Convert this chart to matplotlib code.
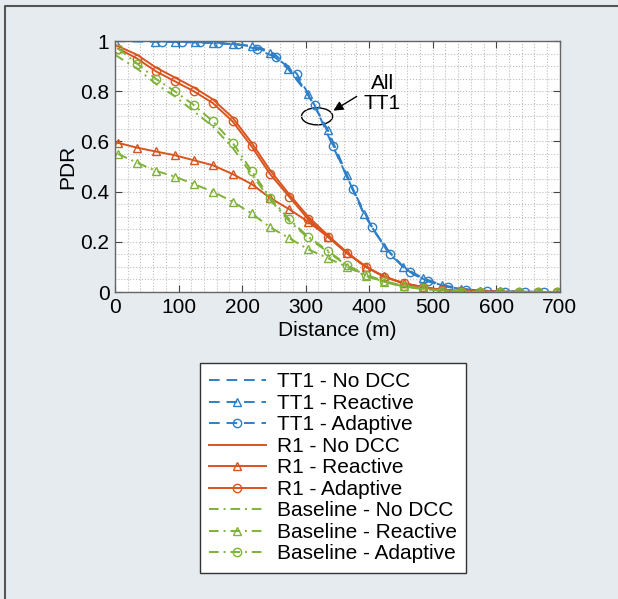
import matplotlib
matplotlib.use("Agg")
import matplotlib.pyplot as plt
from matplotlib.patches import Ellipse
from matplotlib.lines import Line2D
from matplotlib.ticker import MultipleLocator

plt.rcParams['font.family'] = ['Liberation Sans', 'DejaVu Sans']

# Valores (distancia en m, PDR)
tt1_nodcc_x = [0, 50, 100, 150, 200, 230, 250, 270, 290, 310, 330, 350, 370, 390,
               410, 430, 450, 470, 490, 510, 540, 570, 600, 650, 700]
tt1_nodcc_y = [1.0, 0.998, 0.996, 0.993, 0.985, 0.972, 0.95, 0.905, 0.84, 0.76, 0.665,
               0.545, 0.43, 0.32, 0.235, 0.165, 0.11, 0.07, 0.045, 0.027, 0.012,
               0.006, 0.003, 0.001, 0.0]

tt1_react_x = [0, 63, 94, 126, 154, 185, 215, 244, 272, 303, 335, 365, 392, 424,
               453, 484, 514, 545, 575, 605, 635, 665, 695]
tt1_react_y = [1.0, 0.998, 0.997, 0.995, 0.993, 0.988, 0.98, 0.953, 0.89, 0.79,
               0.645, 0.466, 0.31, 0.18, 0.10, 0.056, 0.028, 0.013, 0.006, 0.003,
               0.001, 0.0, 0.0]

tt1_adapt_x = [74, 105, 134, 162, 193, 223, 253, 286, 314, 343, 374, 404, 432, 464,
               492, 524, 553, 585, 613, 645, 675]
tt1_adapt_y = [0.998, 0.997, 0.995, 0.993, 0.987, 0.968, 0.935, 0.87, 0.745, 0.58,
               0.41, 0.26, 0.15, 0.08, 0.044, 0.02, 0.01, 0.005, 0.002, 0.001, 0.0]

r1_nodcc_x = [0, 35, 64, 94, 124, 154, 185, 215, 244, 274, 304, 335, 365, 395, 424,
              454, 484, 515, 545, 600, 700]
r1_nodcc_y = [0.985, 0.945, 0.895, 0.855, 0.815, 0.768, 0.695, 0.595, 0.485, 0.39,
              0.30, 0.226, 0.158, 0.10, 0.06, 0.035, 0.02, 0.008, 0.004, 0.001, 0.0]

marker_x = [5, 35, 64, 94, 124, 154, 185, 215, 244, 274, 304, 335, 365, 395, 424,
            454, 484, 515, 545, 575, 605, 635, 665, 695]

r1_react_y = [0.594, 0.575, 0.56, 0.545, 0.525, 0.505, 0.47, 0.43, 0.375, 0.33,
              0.28, 0.22, 0.155, 0.10, 0.062, 0.035, 0.018, 0.008, 0.004, 0.002,
              0.001, 0.0, 0.0, 0.0]
r1_adapt_y = [0.97, 0.93, 0.88, 0.84, 0.80, 0.753, 0.68, 0.58, 0.47, 0.38, 0.29,
              0.22, 0.155, 0.10, 0.06, 0.035, 0.02, 0.008, 0.004, 0.002, 0.001,
              0.0, 0.0, 0.0]

base_nodcc_x = [0, 35, 64, 94, 124, 154, 185, 215, 244, 274, 304, 335, 365, 395,
                424, 454, 484, 515, 545, 600, 700]
base_nodcc_y = [0.945, 0.89, 0.83, 0.78, 0.72, 0.66, 0.575, 0.47, 0.368, 0.283,
                0.215, 0.16, 0.105, 0.066, 0.04, 0.022, 0.012, 0.005, 0.002, 0.0, 0.0]
base_react_y = [0.55, 0.515, 0.483, 0.46, 0.43, 0.40, 0.36, 0.313, 0.258, 0.215,
                0.17, 0.135, 0.10, 0.064, 0.04, 0.022, 0.012, 0.005, 0.002, 0.001,
                0.0, 0.0, 0.0, 0.0]
base_adapt_y = [0.97, 0.91, 0.85, 0.80, 0.745, 0.68, 0.595, 0.483, 0.375, 0.29,
                0.22, 0.165, 0.107, 0.068, 0.044, 0.024, 0.015, 0.005, 0.002, 0.001,
                0.0, 0.0, 0.0, 0.0]

azul = "#2f7fc6"
rojo = "#d9541e"
verde = "#7fb239"

fig = plt.figure(figsize=(6.18, 5.99), dpi=100)
fig.patch.set_facecolor("#e6ebef")
fig.add_artist(Line2D([0.008, 0.008, 1.0], [0.0, 0.99, 0.99],
                      transform=fig.transFigure, color="#555555", lw=1.5))

ax = fig.add_axes([0.186, 0.5125, 0.72, 0.419])
ax.set_facecolor("white")

lw = 1.4
ms = 6
guion = (5.5, 3.5)
punto_raya = (5, 2.5, 1, 2.5)
ax.plot(tt1_nodcc_x, tt1_nodcc_y, color=azul, lw=lw, dashes=guion, label="TT1 - No DCC")
ax.plot(tt1_react_x, tt1_react_y, color=azul, lw=lw, dashes=guion, marker="^", ms=ms,
        mfc="none", label="TT1 - Reactive")
ax.plot(tt1_adapt_x, tt1_adapt_y, color=azul, lw=lw, dashes=guion, marker="o", ms=ms,
        mfc="none", label="TT1 - Adaptive")
ax.plot(r1_nodcc_x, r1_nodcc_y, "-", color=rojo, lw=lw, label="R1 - No DCC")
ax.plot(marker_x, r1_react_y, "-", color=rojo, lw=lw, marker="^", ms=ms,
        mfc="none", label="R1 - Reactive")
ax.plot(marker_x, r1_adapt_y, "-", color=rojo, lw=lw, marker="o", ms=ms,
        mfc="none", label="R1 - Adaptive")
ax.plot(base_nodcc_x, base_nodcc_y, color=verde, lw=lw, dashes=punto_raya,
        label="Baseline - No DCC")
ax.plot(marker_x, base_react_y, color=verde, lw=lw, dashes=punto_raya, marker="^",
        ms=ms, mfc="none", label="Baseline - Reactive")
ax.plot(marker_x, base_adapt_y, color=verde, lw=lw, dashes=punto_raya, marker="o",
        ms=ms, mfc="none", label="Baseline - Adaptive")

ax.set_xlim(0, 700)
ax.set_ylim(0, 1)
ax.xaxis.set_major_locator(MultipleLocator(100))
ax.yaxis.set_major_locator(MultipleLocator(0.2))
ax.xaxis.set_minor_locator(MultipleLocator(20))
ax.yaxis.set_minor_locator(MultipleLocator(0.05))
ax.yaxis.set_major_formatter(plt.FuncFormatter(lambda v, p: f"{v:g}"))
ax.grid(True, which="both", linestyle=":", color="#bdbdbd", lw=0.8)
ax.tick_params(which="major", direction="in", length=5, top=True, right=True,
               labelsize=15, color="#444444", pad=4)
ax.tick_params(which="minor", length=0)
for s in ax.spines.values():
    s.set_color("#666666")
    s.set_linewidth(1.0)
ax.set_xlabel("Distance (m)", fontsize=15, labelpad=3)
ax.set_ylabel("PDR", fontsize=15, labelpad=2)

# Anotacion "All TT1"
ax.add_patch(Ellipse((318, 0.70), 49, 0.068, fill=False, ec="black", lw=1.0))
ax.annotate("", xy=(340, 0.717), xytext=(384, 0.785),
            arrowprops=dict(arrowstyle="-|>", color="black", lw=1.0,
                            mutation_scale=14))
ax.text(421, 0.79, "All\nTT1", ha="center", va="center", fontsize=15,
        linespacing=1.1)

leg = ax.legend(loc="upper left", bbox_to_anchor=(0.3236, 0.394),
                bbox_transform=fig.transFigure, borderaxespad=0, fontsize=15,
                handlelength=2.7, handletextpad=0.55, labelspacing=0.12,
                borderpad=0.45, numpoints=1, fancybox=False, framealpha=1)
leg.get_frame().set_edgecolor("#333333")
leg.get_frame().set_linewidth(1.0)

fig.savefig("out.png", dpi=100, facecolor=fig.get_facecolor())
